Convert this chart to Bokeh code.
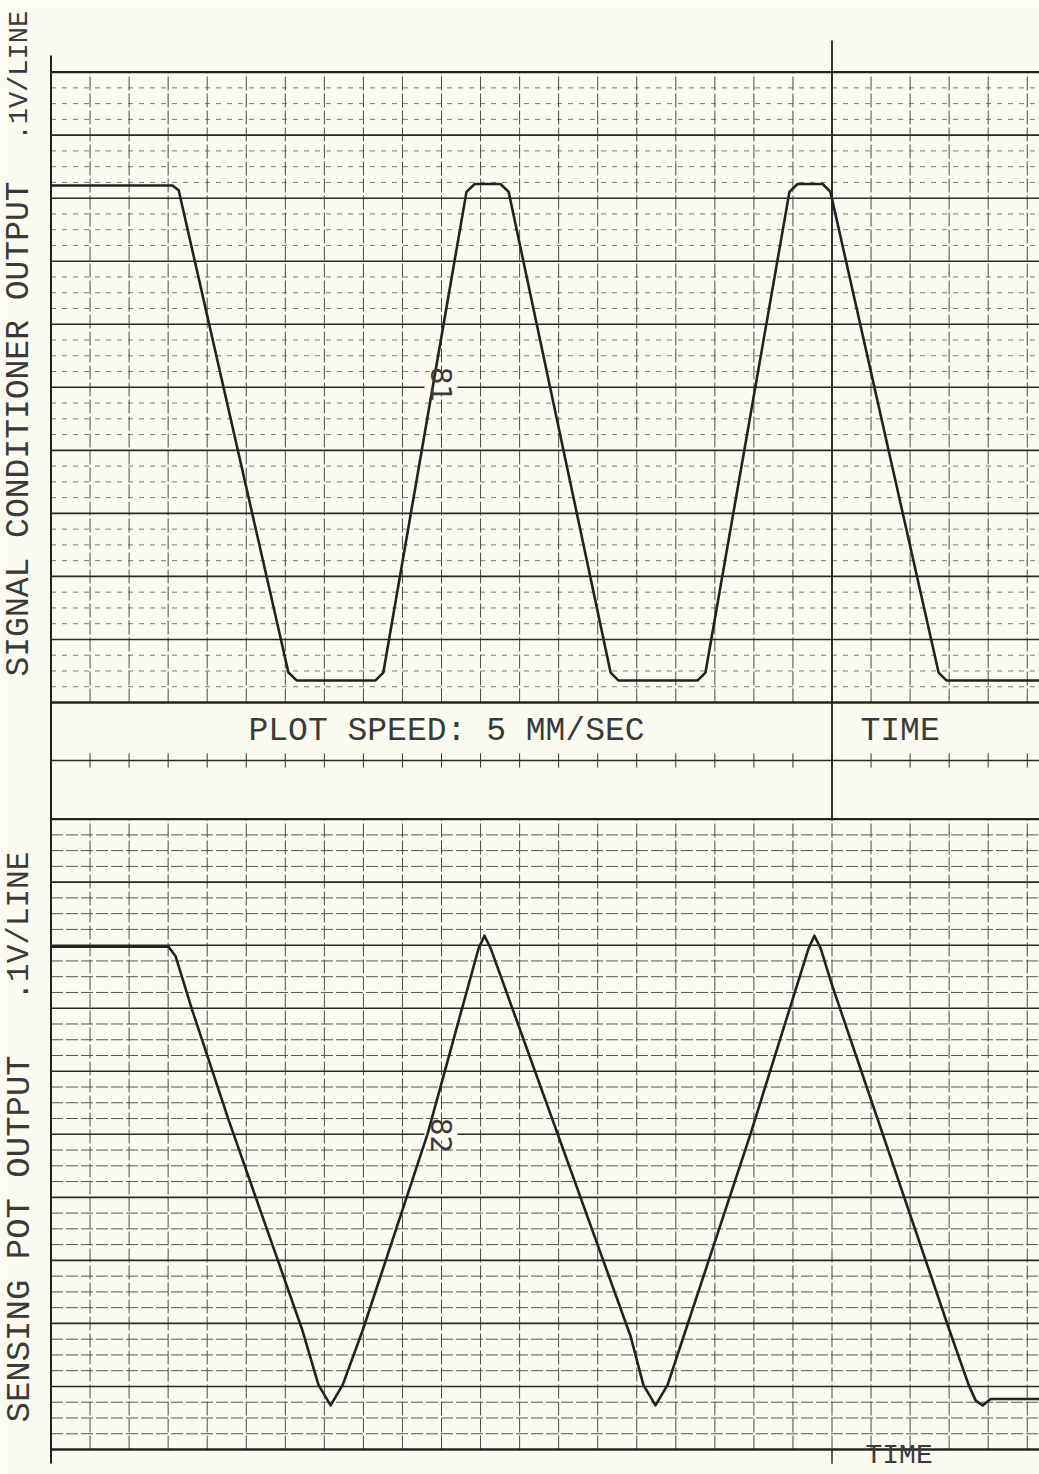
import numpy as np
from math import pi
from bokeh.plotting import figure
from bokeh.models import Range1d, Label
from bokeh.embed import file_html
from bokeh.resources import INLINE

# ---------------- data ----------------
# time in chart divisions (one vertical grid line per division), signal in volts (.1 V per line)
top_t = [0.0, 3.11, 3.27, 6.08, 6.29, 8.31, 8.51, 10.64, 10.85, 11.51, 11.72, 14.33,
         14.53, 16.56, 16.76, 18.91, 19.12, 19.76, 19.96, 22.73, 22.93, 25.40]
top_v = [3.28, 3.28, 3.25, 0.19, 0.14, 0.14, 0.19, 3.24, 3.29, 3.29, 3.24, 0.19,
         0.14, 0.14, 0.19, 3.24, 3.29, 3.29, 3.24, 0.19, 0.14, 0.14]

bot_t = [0.0, 3.01, 3.19, 3.60, 4.55, 6.44, 6.85, 7.16, 7.47, 7.98, 9.64, 10.95, 11.10,
         11.26, 14.84, 15.17, 15.48, 15.79, 16.25, 17.91, 19.40, 19.55, 19.71, 20.01,
         23.01, 23.50, 23.68, 23.86, 24.06, 25.40]
bot_v = [3.19, 3.19, 3.13, 2.80, 2.09, 0.755, 0.41, 0.28, 0.41, 0.755, 2.00, 3.18, 3.26,
         3.18, 0.72, 0.41, 0.28, 0.41, 0.755, 2.00, 3.18, 3.26, 3.18, 2.94,
         0.755, 0.41, 0.31, 0.28, 0.32, 0.32]

top_title = "SIGNAL CONDITIONER OUTPUT"
bot_title = "SENSING POT OUTPUT"
scale_text = ".1V/LINE"
speed_text = "PLOT SPEED: 5 MM/SEC"
time_text = "TIME"
top_mark = "81"
bot_mark = "82"

n_div = 26          # vertical lines 0..25
v_span = 4.0        # each panel 4.0 V tall
v_minor = 0.1
v_major = 0.4

# ---------------- layout geometry (pixels of the sheet) ----------------
W, H, OFF = 1039, 1474, 0
GX0, DIV = 50.5, 39.05        # left edge of the grid, px per division
PXV = 157.6                   # px per volt
TOP_BASE, BOT_BASE = 702.0, 1449.0
SHIFT = 9                     # label baseline correction (px)

PAPER = "#FBFBF1"
INK = "#222222"
TXT = "#3a3a3a"

def xd(px):
    return (px - GX0) / DIV

def vt(py):
    return (TOP_BASE - py) / PXV

def vb(py):
    return (BOT_BASE - py) / PXV

x_range = Range1d(xd(OFF), xd(OFF + W))
p = figure(width=W, height=H, x_range=x_range,
           y_range=Range1d(vb(OFF + H), vb(OFF)),
           output_backend="svg", toolbar_location=None, min_border=0,
           x_axis_location=None, y_axis_location=None,
           background_fill_color=PAPER, border_fill_color=PAPER,
           outline_line_color=None)
p.extra_y_ranges = {"top": Range1d(vt(OFF + H), vt(OFF))}
p.grid.visible = False

x_end = x_range.end + 0.2

def panel(rname, minor_color, minor_dash):
    kw = {} if rname is None else {"y_range_name": rname}
    levels = np.round(np.arange(0, v_span + 1e-9, v_minor), 3)
    minors = [v for v in levels if abs(v / v_major - round(v / v_major)) > 1e-6]
    majors = [v for v in levels if abs(v / v_major - round(v / v_major)) <= 1e-6]
    p.multi_line([[0, x_end]] * len(minors), [[v, v] for v in minors],
                 line_color=minor_color, line_width=1, line_dash=minor_dash, **kw)
    ks = list(range(1, n_div))
    p.multi_line([[k, k] for k in ks], [[0, v_span]] * len(ks),
                 line_color="#4a4a4a", line_width=1, line_dash="14 3", **kw)
    inner = [v for v in majors if 0 < v < v_span]
    p.multi_line([[0, x_end]] * len(inner), [[v, v] for v in inner],
                 line_color="#2a2a2a", line_width=1.6, **kw)
    p.multi_line([[0, x_end]] * 2, [[0, 0], [v_span, v_span]],
                 line_color="#222222", line_width=2.4, **kw)

panel("top", "#7a7a7a", "5 6")
panel(None, "#555555", "12 3")

# band between the panels
band_v = vt(760)
p.line([0, x_end], [band_v, band_v], y_range_name="top", line_color="#2a2a2a", line_width=1.6)
ks = list(range(1, n_div))
p.multi_line([[k, k] for k in ks], [[band_v - 0.045, band_v + 0.045]] * len(ks),
             y_range_name="top", line_color="#333333", line_width=1)

# left border and the heavy time mark at division 20
p.line([0, 0], [vb(1463), vb(55)], line_color="#222222", line_width=2)
p.line([20, 20], [vt(40), vt(820)], y_range_name="top", line_color="#222222", line_width=1.8)
p.line([20, 20], [0, -0.09], line_color="#222222", line_width=1.4)

# gaps in the middle major lines where the figure numbers are written
p.quad(left=[xd(424)], right=[xd(457)], bottom=[1.96], top=[2.04], y_range_name="top",
       fill_color=PAPER, line_color=None)
p.quad(left=[xd(424)], right=[xd(457)], bottom=[1.96], top=[2.04],
       fill_color=PAPER, line_color=None)

# signals
p.line(top_t, top_v, y_range_name="top", line_color=INK, line_width=2.6, line_join="round")
p.line(bot_t, bot_v, line_color=INK, line_width=2.6, line_join="round")

def lab(text, x, y, size, angle=0.0, align="left", baseline="alphabetic", rname=None,
        font="Liberation Mono"):
    kw = {} if rname is None else {"y_range_name": rname}
    p.add_layout(Label(x=x, y=y, text=text, angle=angle, text_font=font,
                       text_font_size=size, text_color=TXT, text_align=align,
                       text_baseline=baseline, **kw))

lab(top_title, xd(28 - SHIFT), vt(676), "33px", angle=pi / 2, rname="top")
lab(scale_text, xd(28 - SHIFT), vt(140), "27px", angle=pi / 2, rname="top")
lab(bot_title, xd(28 - SHIFT), vb(1422), "34px", angle=pi / 2)
lab(scale_text, xd(28 - SHIFT), vb(1000), "31px", angle=pi / 2)

lab(speed_text, xd(248), vt(740 - SHIFT), "33px", rname="top")
lab(time_text, xd(860), vt(740 - SHIFT), "33px", rname="top")
lab(time_text, xd(865), vb(1455), "28px")

lab(top_mark, xd(441), vt(384), "28px", angle=-pi / 2, align="center", baseline="middle",
    rname="top", font="DejaVu Sans")
lab(bot_mark, xd(441), vb(1135), "28px", angle=-pi / 2, align="center", baseline="middle",
    font="DejaVu Sans")

open("out.html", "w").write(file_html(p, INLINE))
